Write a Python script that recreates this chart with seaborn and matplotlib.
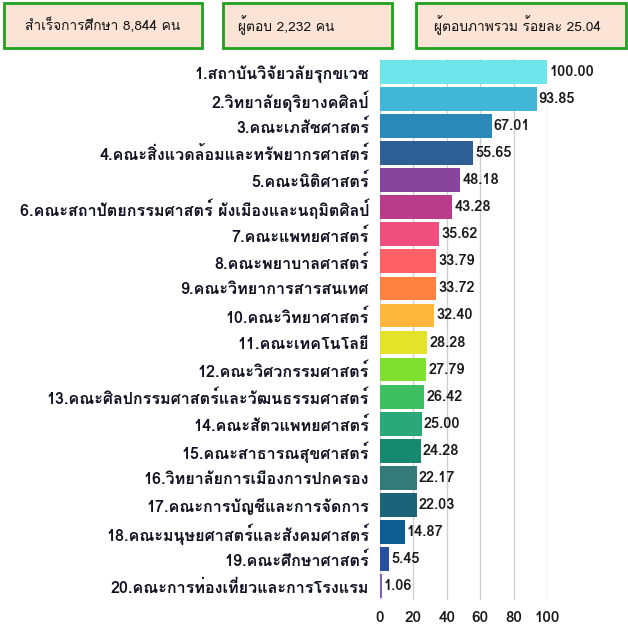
import matplotlib
matplotlib.use("Agg")
import matplotlib.pyplot as plt
from matplotlib import font_manager
from matplotlib.patches import FancyBboxPatch
import pandas as pd
import seaborn as sns

# ข้อมูล
faculties = [
    "1.สถาบันวิจัยวลัยรุกขเวช",
    "2.วิทยาลัยดุริยางคศิลป์",
    "3.คณะเภสัชศาสตร์",
    "4.คณะสิ่งแวดล้อมและทรัพยากรศาสตร์",
    "5.คณะนิติศาสตร์",
    "6.คณะสถาปัตยกรรมศาสตร์ ผังเมืองและนฤมิตศิลป์",
    "7.คณะแพทยศาสตร์",
    "8.คณะพยาบาลศาสตร์",
    "9.คณะวิทยาการสารสนเทศ",
    "10.คณะวิทยาศาสตร์",
    "11.คณะเทคโนโลยี",
    "12.คณะวิศวกรรมศาสตร์",
    "13.คณะศิลปกรรมศาสตร์และวัฒนธรรมศาสตร์",
    "14.คณะสัตวแพทยศาสตร์",
    "15.คณะสาธารณสุขศาสตร์",
    "16.วิทยาลัยการเมืองการปกครอง",
    "17.คณะการบัญชีและการจัดการ",
    "18.คณะมนุษยศาสตร์และสังคมศาสตร์",
    "19.คณะศึกษาศาสตร์",
    "20.คณะการท่องเที่ยวและการโรงแรม",
]
percent = [100.00, 93.85, 67.01, 55.65, 48.18, 43.28, 35.62, 33.79, 33.72, 32.40,
           28.28, 27.79, 26.42, 25.00, 24.28, 22.17, 22.03, 14.87, 5.45, 1.06]
bar_colors = ["#6ee5ea", "#41b6d6", "#2b89b9", "#2e5f97", "#86459a", "#b83c8a",
              "#ee4f7e", "#fe6065", "#fd8242", "#fdb73c", "#e5e22a", "#80e030",
              "#3dbf62", "#2aa87a", "#17896f", "#347a78", "#1a6378", "#0b5d93",
              "#2750a0", "#7a5fc0"]
x_ticks = [0, 20, 40, 60, 80, 100]
header_texts = ["สำเร็จการศึกษา 8,844 คน", "ผู้ตอบ 2,232 คน", "ผู้ตอบภาพรวม ร้อยละ 25.04"]


# หาฟอนต์ที่มีอักษรไทย
def find_thai_font():
    try:
        from fontTools.ttLib import TTFont
    except ImportError:
        return None
    for f in font_manager.fontManager.ttflist:
        try:
            cmap = TTFont(f.fname, fontNumber=0, lazy=True).getBestCmap()
            if cmap and 0x0E01 in cmap and 0x0E48 in cmap:
                return f.name
        except Exception:
            continue
    return None


sns.set_style("white")
thai = find_thai_font()
families = ([thai] if thai else []) + ["DejaVu Sans"]
plt.rcParams["font.family"] = families

df = pd.DataFrame({"faculty": faculties, "percent": percent})

fig = plt.figure(figsize=(6.28, 6.27), dpi=100)
ax = fig.add_axes([380 / 628, 1 - 599.5 / 627, 167 / 628, 541 / 627])

sns.barplot(data=df, x="percent", y="faculty", hue="faculty", palette=bar_colors,
            legend=False, orient="h", width=0.88, saturation=1, edgecolor="none",
            ax=ax, zorder=3)

ax.set_xlim(0, 100)
ax.set_xticks(x_ticks)
ax.set_xticklabels([str(t) for t in x_ticks], fontsize=11, fontweight="bold", color="#1a1a1a")
ax.tick_params(axis="x", length=0, pad=8)
ax.tick_params(axis="y", length=0, pad=8)
for lbl in ax.get_yticklabels():
    lbl.set_fontsize(11.6)
    lbl.set_fontweight("bold")
    lbl.set_color("#111122")
ax.set_xlabel("")
ax.set_ylabel("")
ax.grid(axis="x", color="#cfcfcf", linewidth=1, zorder=0)
ax.grid(axis="y", visible=False)
for s in ax.spines.values():
    s.set_visible(False)

for i, v in enumerate(percent):
    ax.text(v + 1.2, i, f"{v:.2f}", va="center", ha="left", fontsize=10.5,
            fontweight="bold", color="#1a1a1a", clip_on=False)

# กล่องหัวข้อ
boxes = [(4, 198, 25), (223, 169, 238), (416, 210, 434)]
for (x0, w, tx), txt in zip(boxes, header_texts):
    rect = FancyBboxPatch((x0 / 628, 1 - 48 / 627), w / 628, 45 / 627,
                          boxstyle="square,pad=0", transform=fig.transFigure,
                          facecolor="#fbe4d6", edgecolor="#1fa01f", linewidth=2)
    fig.patches.append(rect)
    fig.text(tx / 628, 1 - 25.5 / 627, txt, ha="left", va="center",
             fontsize=9.9, color="#111111")

fig.savefig("out.png", dpi=100)
